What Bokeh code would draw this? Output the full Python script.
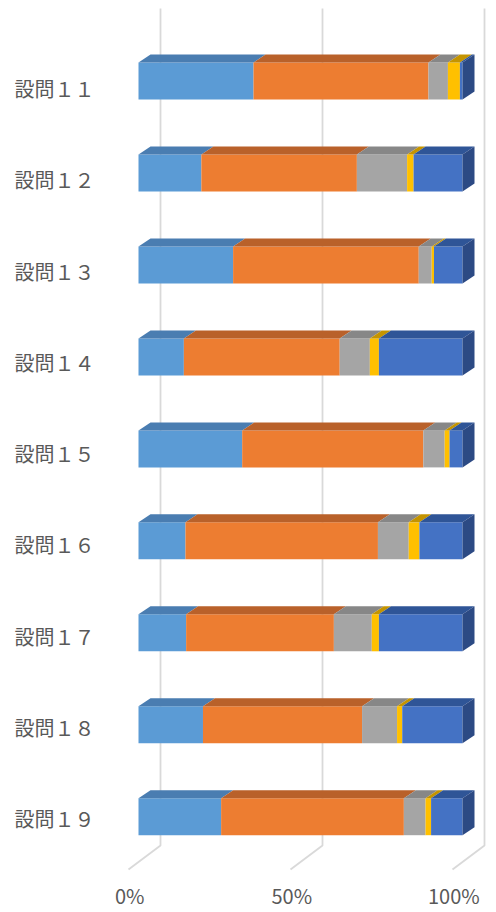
from bokeh.plotting import figure
from bokeh.models import Range1d, LinearAxis, FixedTicker
from bokeh.core.properties import value
from bokeh.embed import file_html
from bokeh.resources import INLINE

# ---------------- data ----------------
categories = ["設問１１", "設問１２", "設問１３", "設問１４", "設問１５",
              "設問１６", "設問１７", "設問１８", "設問１９"]
s1 = [35.5, 19.4, 29.2, 14.0, 32.0, 14.5, 14.7, 19.9, 25.5]
s2 = [54.0, 48.0, 57.3, 48.1, 55.9, 59.4, 45.6, 49.1, 56.4]
s3 = [6.0, 15.5, 4.0, 9.3, 6.6, 9.5, 11.7, 10.8, 6.7]
s4 = [3.7, 2.0, 0.7, 2.8, 1.5, 3.3, 2.2, 1.6, 1.7]
s5 = [0.8, 15.1, 8.8, 25.8, 4.0, 13.3, 25.8, 18.6, 9.7]
series = [s1, s2, s3, s4, s5]
tick_values = [0, 50, 100]
tick_labels = ["0%", "50%", "100%"]

# ---------------- style / layout ----------------
front_colors = ["#5B9BD5", "#ED7D31", "#A5A5A5", "#FFC000", "#4472C4"]
top_colors = ["#4A7DB1", "#B9612A", "#878787", "#C49400", "#2F5597"]
side_color = "#2C4A84"
grid_color = "#D9D9D9"
text_color = "#595959"
FONT = "Noto Sans CJK JP"

W, H = 494, 910
FL = 110                      # frame left (px)
X0, PPX = 138.0, 3.24         # px of 0% on bar front, px per %
Y0, PPY = 80.6, 91.95         # px of first bar centre, px per category
LX0, LPX = 129.2, 3.241       # tick-label scale
LY0, LPY = 88.0, 91.25        # category-label scale

BAR_H = 37 / PPY
DX = 12 / PPX
DY = 8 / PPY
BACK_DX = 22 / PPX
FLOOR_DX = -10 / PPX
TOP_Y = (8 - Y0) / PPY
WALL_BOTTOM = (845 - Y0) / PPY
FLOOR_FRONT = (869 - Y0) / PPY
TICK_Y = (895 - Y0) / PPY

p = figure(width=W, height=H, output_backend="svg", toolbar_location=None,
           x_axis_location=None, y_axis_location=None,
           min_border_left=FL, min_border_right=0, min_border_top=0, min_border_bottom=0,
           x_range=Range1d((FL - X0) / PPX, (W - X0) / PPX),
           y_range=Range1d((H - Y0) / PPY, (0 - Y0) / PPY))
p.outline_line_color = None
p.background_fill_color = "white"
p.grid.visible = False
p.extra_x_ranges = {"lab": Range1d((FL - LX0) / LPX, (W - LX0) / LPX)}
p.extra_y_ranges = {"lab": Range1d((H - LY0) / LPY, (0 - LY0) / LPY)}

# gridlines (back wall + floor)
gx, gy = [], []
for t in tick_values:
    gx.append([t + BACK_DX, t + BACK_DX, t + FLOOR_DX])
    gy.append([TOP_Y, WALL_BOTTOM, FLOOR_FRONT])
p.multi_line(gx, gy, line_color=grid_color, line_width=1.8)

# bars
n = len(categories)
totals = [sum(s[i] for s in series) for i in range(n)]
ys = list(range(n))
cum = [0.0] * n
for k, s in enumerate(series):
    left = [cum[i] / totals[i] * 100 for i in range(n)]
    right = [(cum[i] + s[i]) / totals[i] * 100 for i in range(n)]
    cum = [cum[i] + s[i] for i in range(n)]
    p.hbar(y=ys, left=left, right=right, height=BAR_H,
           fill_color=front_colors[k], line_color=None)
    xs_t, ys_t = [], []
    for i in range(n):
        yt = i - BAR_H / 2
        xs_t.append([left[i], right[i], right[i] + DX, left[i] + DX])
        ys_t.append([yt, yt, yt - DY, yt - DY])
    p.patches(xs_t, ys_t, fill_color=top_colors[k], line_color=None)

# right side faces
xs_s, ys_s = [], []
for i in range(n):
    yt, yb = i - BAR_H / 2, i + BAR_H / 2
    xs_s.append([100, 100 + DX, 100 + DX, 100])
    ys_s.append([yt, yt - DY, yb - DY, yb])
p.patches(xs_s, ys_s, fill_color=side_color, line_color=None)

# category axis
yaxis = LinearAxis(y_range_name="lab", ticker=FixedTicker(ticks=list(range(n))),
                   major_label_overrides={i: c for i, c in enumerate(categories)})
yaxis.axis_line_color = None
yaxis.major_tick_line_color = None
yaxis.minor_tick_line_color = None
yaxis.major_tick_out = 0
yaxis.major_tick_in = 0
yaxis.major_label_standoff = 16
yaxis.major_label_text_font = FONT
yaxis.major_label_text_font_size = "20px"
yaxis.major_label_text_color = text_color
p.add_layout(yaxis, "left")

# value tick labels
p.text(x=tick_values, y=[TICK_Y] * len(tick_values), text=tick_labels,
       x_range_name="lab", text_font=value(FONT), text_font_size="20px",
       text_color=text_color, text_align="center", text_baseline="middle")

open("out.html", "w").write(file_html(p, INLINE))
